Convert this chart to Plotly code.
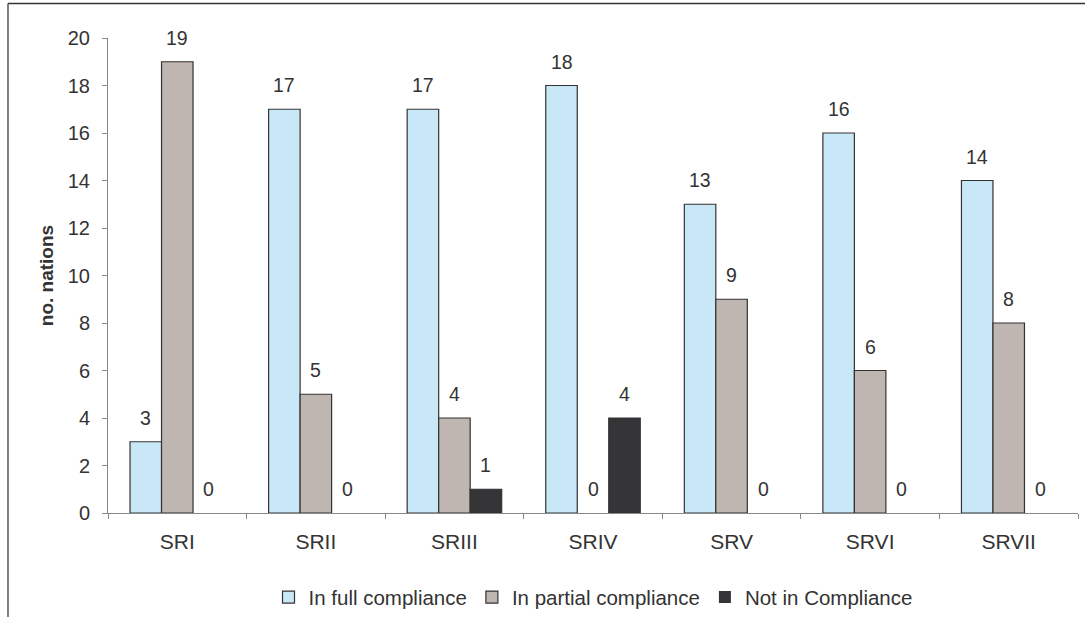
import plotly.graph_objects as go

categories = ["SRI", "SRII", "SRIII", "SRIV", "SRV", "SRVI", "SRVII"]
full_compliance = [3, 17, 17, 18, 13, 16, 14]
partial_compliance = [19, 5, 4, 0, 9, 6, 8]
not_compliance = [0, 0, 1, 4, 0, 0, 0]

series = [
    ("In full compliance", full_compliance, "#C8E8F8"),
    ("In partial compliance", partial_compliance, "#BFB5B1"),
    ("Not in Compliance", not_compliance, "#353538"),
]

FONT = "Liberation Sans, Arial, sans-serif"
TEXT = "#333333"

fig = go.Figure()
for name, vals, color in series:
    fig.add_trace(go.Bar(
        x=categories, y=vals, name=name,
        marker=dict(color=color,
                    line=dict(color="#333333",
                              width=[1.2 if v > 0 else 0 for v in vals])),
    ))

# value labels above each bar
offsets = [-31.5, 0, 31.5]
annotations = []
for (name, vals, color), dx in zip(series, offsets):
    for cat, v in zip(categories, vals):
        annotations.append(dict(
            x=cat, y=v, xref="x", yref="y", text=str(v), showarrow=False,
            xshift=dx, yshift=24, yanchor="middle",
            font=dict(family=FONT, size=19.5, color=TEXT),
        ))

fig.update_layout(
    width=1085, height=617,
    margin=dict(l=108, r=7, t=38, b=104),
    paper_bgcolor="white", plot_bgcolor="white",
    barmode="group", bargap=0.318, bargroupgap=0,
    font=dict(family=FONT, size=20, color=TEXT),
    showlegend=True,
    legend=dict(
        orientation="h", x=0.5, xanchor="center",
        yref="container", y=0.032, yanchor="middle",
        font=dict(family=FONT, size=20.5, color=TEXT),
        itemwidth=30, tracegroupgap=0,
    ),
    annotations=annotations,
    xaxis=dict(
        showline=True, linecolor="#888888", linewidth=1,
        ticks="outside", ticklen=5, tickcolor="#888888",
        tickson="boundaries", showgrid=False,
        tickfont=dict(family=FONT, size=21, color=TEXT),
        ticklabelstandoff=10,
    ),
    yaxis=dict(
        range=[0, 20], dtick=2, showline=True, linecolor="#888888", linewidth=1,
        ticks="outside", ticklen=5, tickcolor="#888888", showgrid=False,
        zeroline=False,
        tickfont=dict(family=FONT, size=20, color=TEXT),
        ticklabelstandoff=8,
        title=dict(text="<b>no. nations</b>", standoff=9,
                   font=dict(family=FONT, size=19, color=TEXT)),
    ),
    shapes=[
        dict(type="line", xref="paper", yref="paper",
             x0=-0.1031, x1=1.01, y0=1.0726, y1=1.0726,
             line=dict(color="#333333", width=1.5)),
        dict(type="line", xref="paper", yref="paper",
             x0=-0.1031, x1=-0.1031, y0=1.0726, y1=-0.25,
             line=dict(color="#555555", width=1.5)),
    ],
)

fig.write_html("out.html")
